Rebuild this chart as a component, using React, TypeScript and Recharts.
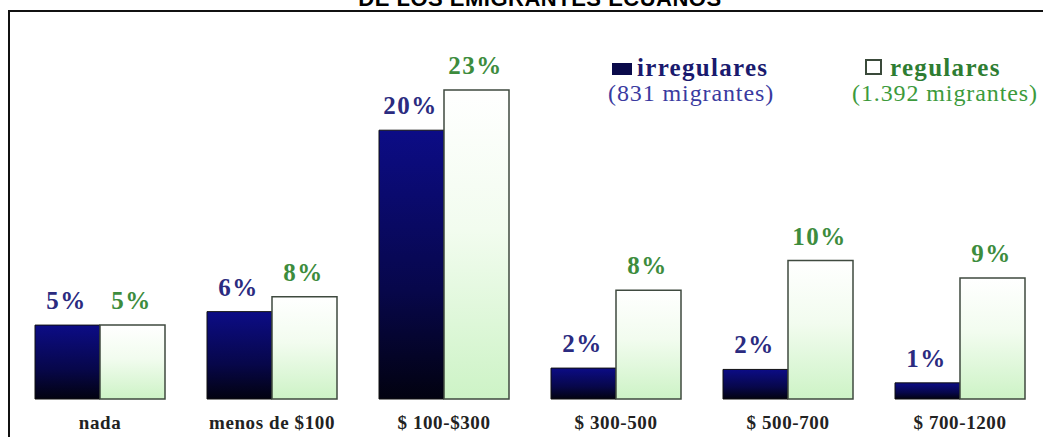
import React from "react";
import { BarChart, Bar, XAxis, YAxis, LabelList } from "recharts";

const categories = ["nada", "menos de $100", "$ 100-$300", "$ 300-500", "$ 500-700", "$ 700-1200"];
const irregulares = [5.5, 6.5, 20.0, 2.3, 2.2, 1.2];
const regulares = [5.5, 7.6, 23.0, 8.1, 10.3, 9.0];
const irregularLabels = ["5%", "6%", "20%", "2%", "2%", "1%"];
const regularLabels = ["5%", "8%", "23%", "8%", "10%", "9%"];

const data = categories.map((c, i) => ({
  cat: c,
  irr: irregulares[i],
  reg: regulares[i],
  irrLabel: irregularLabels[i],
  regLabel: regularLabels[i],
}));

const serif = "'Liberation Serif', 'DejaVu Serif', serif";

const Tick = (props: any) => {
  const { x, y, payload } = props;
  return (
    <text x={x} y={y + 22} textAnchor="middle" fontFamily={serif} fontWeight="bold" fontSize={19} letterSpacing={0.6} fill="#222">
      {payload.value}
    </text>
  );
};

const makeLabel = (color: string, dx: number) => (props: any) => {
  const { x, y, width, value } = props;
  return (
    <text x={x + width / 2 + dx} y={y - 16} textAnchor="middle" fontFamily={serif} fontWeight="bold" fontSize={25} letterSpacing={1.5} fill={color}>
      {value}
    </text>
  );
};

const legendLine = (left: number, top: number, color: string, bold: boolean, text: React.ReactNode) => (
  <div
    style={{
      position: "absolute",
      left,
      top,
      fontFamily: serif,
      fontSize: bold ? 25 : 24,
      lineHeight: "26px",
      letterSpacing: bold ? 1.3 : 0.9,
      whiteSpace: "nowrap",
      color,
      fontWeight: bold ? "bold" : "normal",
    }}
  >
    {text}
  </div>
);

export default function App() {
  return (
    <div style={{ position: "absolute", left: 0, top: 0, width: 1043, height: 437, overflow: "hidden", background: "#fff" }}>
      <div
        style={{
          position: "absolute",
          left: 0,
          width: 1080,
          top: -13,
          textAlign: "center",
          fontFamily: "'Liberation Sans', Arial, sans-serif",
          fontWeight: "bold",
          fontSize: 22,
          lineHeight: "24px",
          color: "#000",
          letterSpacing: 0.5,
          whiteSpace: "nowrap",
        }}
      >
        DE LOS EMIGRANTES ECUANOS
      </div>
      <div
        style={{
          position: "absolute",
          left: 8,
          top: 10,
          width: 1060,
          height: 440,
          border: "2.5px solid #111",
          boxSizing: "border-box",
        }}
      />
      {legendLine(
        612,
        55,
        "#1a1a6e",
        true,
        <>
          <span style={{ display: "inline-block", width: 20, height: 12, background: "#0a0a4a", marginRight: 5, verticalAlign: "1px" }} />
          irregulares
        </>
      )}
      {legendLine(608, 80, "#3a3aa0", false, "(831 migrantes)")}
      {legendLine(
        865,
        55,
        "#2e7d32",
        true,
        <>
          <span style={{ display: "inline-block", width: 13, height: 12, border: "2px solid #3a4a3a", marginRight: 8, verticalAlign: "1px", background: "#fff" }} />
          regulares
        </>
      )}
      {legendLine(852, 80, "#3c9a3c", false, "(1.392 migrantes)")}
      <div style={{ position: "absolute", left: 0, top: 0 }}>
        <BarChart
          width={1060}
          height={437}
          data={data}
          margin={{ top: 63, right: 14, left: 14, bottom: 8 }}
          barGap={0}
          barCategoryGap={21}
        >
          <defs>
            <linearGradient id="gIrr" x1="0" y1="0" x2="0" y2="1">
              <stop offset="0%" stopColor="#0c0c86" />
              <stop offset="60%" stopColor="#07074a" />
              <stop offset="100%" stopColor="#020210" />
            </linearGradient>
            <linearGradient id="gReg" x1="0" y1="0" x2="0" y2="1">
              <stop offset="0%" stopColor="#ffffff" />
              <stop offset="45%" stopColor="#f2fcef" />
              <stop offset="100%" stopColor="#cdf3c6" />
            </linearGradient>
          </defs>
          <XAxis dataKey="cat" axisLine={false} tickLine={false} tick={<Tick />} interval={0} height={30} />
          <YAxis hide domain={[0, 25]} />
          <Bar dataKey="irr" fill="url(#gIrr)" stroke="#111" strokeWidth={1} isAnimationActive={false}>
            <LabelList dataKey="irrLabel" content={makeLabel("#2b2b80", -1)} />
          </Bar>
          <Bar dataKey="reg" fill="url(#gReg)" stroke="#3f4a3f" strokeWidth={1.5} isAnimationActive={false}>
            <LabelList dataKey="regLabel" content={makeLabel("#3d8c3d", -1)} />
          </Bar>
        </BarChart>
      </div>
    </div>
  );
}
